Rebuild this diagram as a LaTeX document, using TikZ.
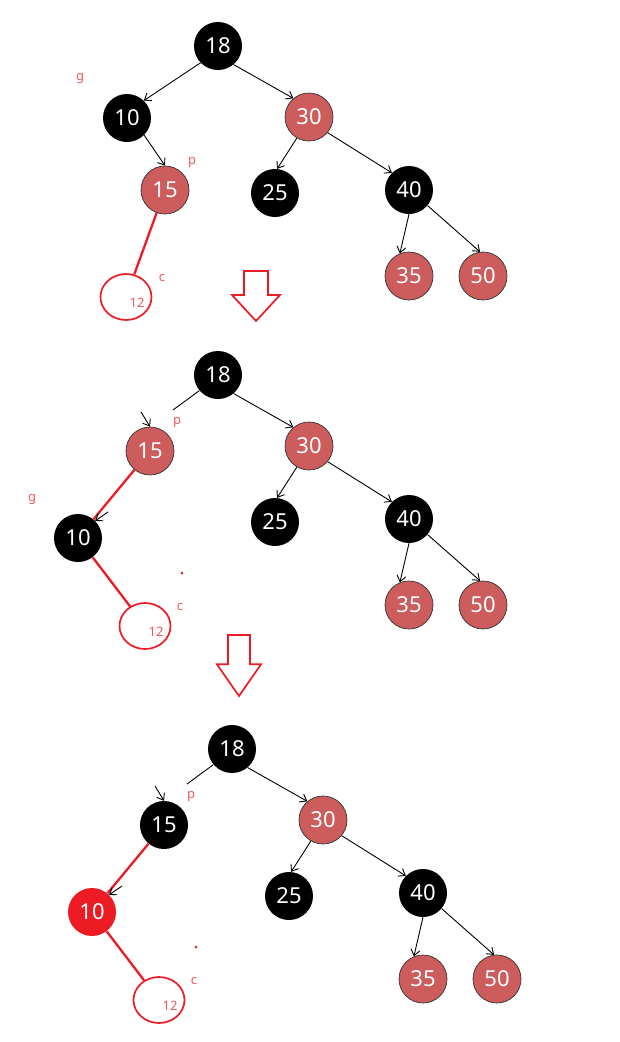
\documentclass[tikz,border=0pt]{standalone}
\usepackage{fontspec}
\setmainfont{Noto Sans}
\usetikzlibrary{arrows.meta,shapes.geometric}
\definecolor{rbred}{RGB}{205,92,92}
\definecolor{hotred}{RGB}{237,28,36}
\definecolor{tagred}{RGB}{240,90,90}

\begin{document}
\begin{tikzpicture}[
	x=1pt, y=-1pt,
	key/.style  = {circle, minimum size=48pt, inner sep=0pt, text=white, font=\fontsize{22}{22}\selectfont},
	blk/.style  = {key, fill=black},
	rd/.style   = {key, fill=rbred, draw=black!80, line width=0.7pt},
	hot/.style  = {key, fill=hotred},
	nil/.style  = {ellipse, minimum width=51pt, minimum height=46pt, draw=hotred, line width=1.7pt,
	               label={[text=tagred, font=\fontsize{13}{13}\selectfont, xshift=11pt, yshift=-6pt]center:12}},
	tag/.style  = {text=tagred, font=\fontsize{13}{13}\selectfont, inner sep=0pt},
	link/.style = {->, line width=0.9pt},
	fix/.style  = {draw=hotred, line width=2.3pt},
	dot/.style  = {circle, fill=hotred, inner sep=0pt, minimum size=3pt},
	turn arrow/.pic = {\draw[hotred, line width=1.7pt] (-12,0) -- (12,0) -- (12,24) -- (24,24) -- (0,50) -- (-24,24) -- (-12,24) -- cycle;},
	>={Straight Barb[length=6pt,width=9pt]}]
	
	\useasboundingbox (0,0) rectangle (619,1042);
	
	% root and right half, the same in all three trees
	\foreach \t/\sx/\sy in {a/0/0, b/0/329, c/14/703} {
	\begin{scope}[shift={(\sx,\sy)}]
	\node[blk] (\t18) at (218,46) {18};
	\node[rd]  (\t30) at (309,117) {30};
	\node[blk] (\t25) at (275,193) {25};
	\node[blk] (\t40) at (409,190) {40};
	\node[rd]  (\t35) at (409,276) {35};
	\node[rd]  (\t50) at (483,276) {50};
	\draw[link] (\t18.-50) -- (\t30.130);
	\draw[link] (\t30.240) -- (\t25.85);
	\draw[link] (\t30.-40) -- (\t40.135);
	\draw[link] (\t40.south) -- (\t35.112);
	\draw[link] (\t40.-40) -- (\t50.97);
	\end{scope}
	}
	
	% first tree, left half
	\node[blk] (a10) at (127,118) {10};
	\node[rd]  (a15) at (165,190) {15};
	\node[nil] (a12) at (126,297) {};
	\draw[link] (a18.-136) -- (a10.46);
	\draw[link] (a10.-45) -- (a15.north);
	\draw[fix] (a15) -- (a12);
	\node[tag] (ag) at (80,79) {g};
	\node[tag] (ap) at (192,163) {p};
	\node[tag] (ac) at (162,278) {c};
	
	\pic at (256,271) {turn arrow};
	
	% second tree, left half
	\begin{scope}[shift={(0,329)}]
	\node[rd]  (b15) at (150,122) {15};
	\node[blk] (b10) at (78,209) {10};
	\node[nil] (b12) at (145,297) {};
	\coordinate (b-cut) at (173,81);
	\coordinate (b-in15) at (141,83);
	\coordinate (b-in10) at (108,183);
	\draw[line width=0.9pt] (b18.-140) -- (b-cut);
	\draw[link] (b-in15) -- (b15.north);
	\draw[fix] (b15) -- (b10);
	\draw[fix] (b10) -- (b12);
	\draw[link] (b-in10) -- (b10.45);
	\node[tag] (bg) at (32,171) {g};
	\node[tag] (bp) at (177,94) {p};
	\node[tag] (bc) at (180,278) {c};
	\node[dot] (b-dot) at (182,244) {};
	\end{scope}
	
	\pic[xscale=0.92, yscale=1.22] at (239,635) {turn arrow};
	
	% third tree, left half
	\begin{scope}[shift={(14,703)}]
	\node[blk] (c15) at (150,122) {15};
	\node[hot] (c10) at (78,209) {10};
	\node[nil] (c12) at (145,297) {};
	\coordinate (c-cut) at (173,81);
	\coordinate (c-in15) at (141,83);
	\coordinate (c-in10) at (108,183);
	\draw[line width=0.9pt] (c18.-140) -- (c-cut);
	\draw[link] (c-in15) -- (c15.north);
	\draw[fix] (c15) -- (c10);
	\draw[fix] (c10) -- (c12);
	\draw[link] (c-in10) -- (c10.45);
	\node[tag] (cp) at (177,94) {p};
	\node[tag] (cc) at (180,278) {c};
	\node[dot] (c-dot) at (182,244) {};
	\end{scope}
\end{tikzpicture}
\end{document}
